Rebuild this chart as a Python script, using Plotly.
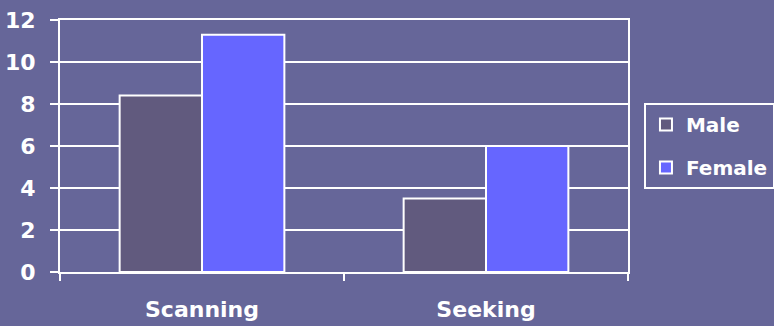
import plotly.graph_objects as go

# Data
categories = ["Scanning", "Seeking"]
male = [8.4, 3.5]
female = [11.3, 6.0]
y_ticks = [0, 2, 4, 6, 8, 10, 12]

BG = "#666699"
MALE_COLOR = "#615a7e"
FEMALE_COLOR = "#6666ff"
FONT = dict(family="DejaVu Sans", size=22, color="white", weight="bold")

fig = go.Figure()
fig.add_trace(go.Bar(
    x=categories, y=male, name="Male", legendgroup="m",
    marker=dict(color=MALE_COLOR, line=dict(color="white", width=2)),
))
fig.add_trace(go.Bar(
    x=categories, y=female, name="Female", legendgroup="f",
    marker=dict(color=FEMALE_COLOR, line=dict(color="white", width=2)),
))

fig.update_layout(
    width=774, height=326,
    margin=dict(l=60, r=146, t=20, b=54, autoexpand=False),
    paper_bgcolor=BG, plot_bgcolor=BG,
    barmode="group", bargap=0.42, bargroupgap=0,
    font=FONT,
    showlegend=True,
    legend=dict(
        xref="container", yref="container",
        x=0.832, xanchor="left", y=0.552, yanchor="middle",
        bordercolor="white", borderwidth=2, bgcolor=BG,
        font=dict(family="DejaVu Sans", size=20, color="white", weight="bold"),
        traceorder="grouped", tracegroupgap=14,
    ),
)
fig.update_xaxes(
    showline=True, linecolor="white", linewidth=2, mirror=True,
    ticks="outside", tickson="boundaries", ticklen=7, tickcolor="white", tickwidth=2,
    showgrid=False, tickfont=FONT, ticklabelstandoff=17,
)
fig.update_yaxes(
    range=[0, 12], tickvals=y_ticks,
    showline=True, linecolor="white", linewidth=2, mirror=True,
    ticks="outside", ticklen=8, tickcolor="white", tickwidth=2,
    showgrid=True, gridcolor="white", gridwidth=2, zeroline=False,
    tickfont=FONT, ticklabelstandoff=10,
)

fig.write_html("out.html")
